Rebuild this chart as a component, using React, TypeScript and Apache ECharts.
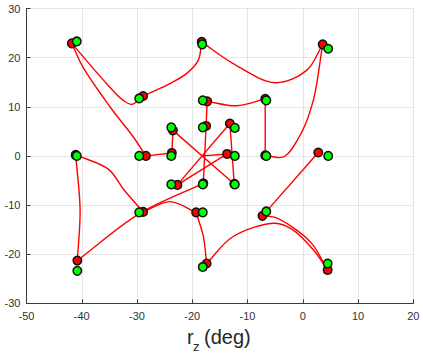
import React, { useEffect, useRef } from "react";
import * as echarts from "echarts";

// Start of the trajectory (no marker)
const startPoint: [number, number] = [-18.1, 0.0];

// Reached positions (red), in visiting order
const redX = [-13.7, -22.7, -13.2, -12.4, -23.5, -23.7, -28.4, -41.8, -28.9, -18.3, 3.6, -6.8, -6.8, -17.3, -17.5, -18.0, -40.8, -41.1, -28.9, -19.3, -17.4, 4.5, -7.3, 2.8];
const redY = [0.4, -5.9, 6.6, -5.7, 5.2, 0.6, 0.0, 22.9, 12.2, 23.2, 22.7, 0.1, 11.6, 11.1, 6.1, -5.6, -21.3, 0.2, -11.4, -11.5, -21.9, -23.2, -12.2, 0.7];

// Targets (green), paired with the red points above
const greenX = [-12.3, -23.8, -12.3, -12.3, -23.8, -23.8, -29.6, -40.9, -29.6, -18.2, 4.6, -6.6, -6.6, -18.1, -18.1, -18.1, -40.8, -40.9, -29.6, -18.1, -18.1, 4.5, -6.6, 4.6];
const greenY = [0.0, -5.8, 5.7, -5.8, 5.8, 0.0, 0.0, 23.3, 11.7, 22.7, 21.8, 0.0, 11.3, 11.3, 5.8, -5.8, -23.4, 0.0, -11.5, -11.5, -22.6, -21.9, -11.3, 0.0];

// Points read along each curved segment (segment i ends at red point i)
const bends: [number, number][][] = [
  [],
  [],
  [],
  [],
  [],
  [],
  [],
  [[-30.7, 3.9], [-34.9, 10.0], [-39.8, 18.1]],
  [[-35.5, 14.7], [-32.5, 11.3], [-30.9, 10.5]],
  [[-24.6, 14.4], [-21.0, 16.8], [-18.9, 19.5]],
  [[-12.6, 18.8], [-5.0, 14.9], [0.7, 17.4]],
  [[1.9, 11.3], [-0.3, 4.6], [-3.5, -0.2]],
  [],
  [[-12.0, 10.2]],
  [],
  [],
  [[-29.5, -11.7]],
  [[-40.3, -11.0]],
  [[-35.2, -2.7], [-32.3, -7.0]],
  [[-24.0, -9.3]],
  [[-18.0, -16.4]],
  [[-12.6, -16.4], [-5.0, -13.7], [-2.0, -14.9], [1.9, -19.1]],
  [[1.6, -17.8], [-2.0, -14.4], [-5.0, -12.5]],
  [],
];

const xTicks = { min: -50, max: 20, step: 10 };
const yTicks = { min: -30, max: 30, step: 10 };

type P = number[];

// Centripetal Catmull-Rom spline through pixel points, as an SVG path
function splinePath(pts: P[]): string {
  const n = pts.length;
  const f = (p: P) => `${p[0].toFixed(2)} ${p[1].toFixed(2)}`;
  let d = `M${f(pts[0])}`;
  if (n === 2) return d + ` L${f(pts[1])}`;
  const refl = (a: P, b: P): P => [2 * a[0] - b[0], 2 * a[1] - b[1]];
  const dist = (a: P, b: P) => Math.max(1e-6, Math.sqrt(Math.hypot(a[0] - b[0], a[1] - b[1])));
  for (let i = 0; i < n - 1; i++) {
    const P0 = i > 0 ? pts[i - 1] : refl(pts[0], pts[1]);
    const P1 = pts[i];
    const P2 = pts[i + 1];
    const P3 = i + 2 < n ? pts[i + 2] : refl(pts[n - 1], pts[n - 2]);
    const d1 = dist(P0, P1), d2 = dist(P1, P2), d3 = dist(P2, P3);
    const b1: P = [0, 1].map((k) =>
      (d1 * d1 * P2[k] - d2 * d2 * P0[k] + (2 * d1 * d1 + 3 * d1 * d2 + d2 * d2) * P1[k]) / (3 * d1 * (d1 + d2))
    );
    const b2: P = [0, 1].map((k) =>
      (d3 * d3 * P1[k] - d2 * d2 * P3[k] + (2 * d3 * d3 + 3 * d3 * d2 + d2 * d2) * P2[k]) / (3 * d3 * (d3 + d2))
    );
    d += ` C${f(b1)} ${f(b2)} ${f(P2)}`;
  }
  return d;
}

export default function App() {
  const ref = useRef<HTMLDivElement>(null);
  useEffect(() => {
    if (!ref.current) return;
    const chart = echarts.init(ref.current, undefined, { renderer: "svg" });
    const font = "'Liberation Sans', Arial, Helvetica, sans-serif";

    const segData = redX.map((x, i) => [x, redY[i], i]);

    const markerData: any[] = [];
    redX.forEach((x, i) => {
      markerData.push({ value: [x, redY[i]], itemStyle: { color: "#ff0000" } });
      markerData.push({ value: [greenX[i], greenY[i]], itemStyle: { color: "#00ff00" } });
    });

    chart.setOption({
      animation: false,
      grid: {
        left: 26.5,
        right: 9.7,
        top: 8.5,
        bottom: 49.7,
        show: true,
        borderColor: "#e3e3e3",
        borderWidth: 1,
      },
      xAxis: {
        type: "value",
        min: xTicks.min,
        max: xTicks.max,
        interval: xTicks.step,
        axisLine: { onZero: false, lineStyle: { color: "#3a3a3a", width: 1 } },
        axisTick: { show: true, inside: true, length: 4, lineStyle: { color: "#3a3a3a" } },
        axisLabel: { color: "#333", fontSize: 11, fontFamily: font, margin: 7 },
        splitLine: { show: true, lineStyle: { color: "#e6e6e6", width: 1 } },
      },
      yAxis: {
        type: "value",
        min: yTicks.min,
        max: yTicks.max,
        interval: yTicks.step,
        axisLine: { show: true, onZero: false, lineStyle: { color: "#3a3a3a", width: 1 } },
        axisTick: { show: true, inside: true, length: 4, lineStyle: { color: "#3a3a3a" } },
        axisLabel: { color: "#333", fontSize: 11, fontFamily: font, margin: 6 },
        splitLine: { show: true, lineStyle: { color: "#e6e6e6", width: 1 } },
      },
      graphic: [
        { type: "text", left: 187, top: 327, style: { text: "r", fontSize: 20, fontFamily: font, fill: "#262626" } },
        { type: "text", left: 193, top: 340, style: { text: "z", fontSize: 13, fontFamily: font, fill: "#262626" } },
        { type: "text", left: 204, top: 327, style: { text: "(deg)", fontSize: 20, fontFamily: font, fill: "#262626" } },
      ],
      series: [
        {
          type: "custom",
          data: segData,
          silent: true,
          z: 2,
          renderItem: (params: any, api: any) => {
            const i = api.value(2);
            const prev: P = i === 0 ? startPoint : [redX[i - 1], redY[i - 1]];
            const pts: P[] = [prev, ...bends[i], [redX[i], redY[i]]].map((p) => api.coord(p));
            return {
              type: "path",
              shape: { pathData: splinePath(pts) },
              style: { stroke: "#ff0000", fill: "none", lineWidth: 1.4 },
            };
          },
        },
        {
          type: "scatter",
          data: markerData,
          symbol: "circle",
          symbolSize: 8.5,
          silent: true,
          z: 5,
          itemStyle: { borderColor: "#111", borderWidth: 1.5, opacity: 1 },
        },
      ],
    });
    return () => chart.dispose();
  }, []);
  return <div ref={ref} style={{ position: "absolute", left: 0, top: 0, width: 423, height: 353 }} />;
}
